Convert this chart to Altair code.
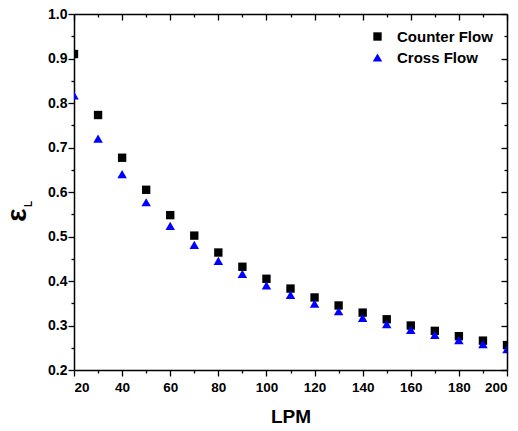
import altair as alt
import pandas as pd

# Flow rate (litres per minute) and measured effectiveness for each arrangement
lpm = [20, 30, 40, 50, 60, 70, 80, 90, 100, 110, 120, 130, 140, 150, 160, 170, 180, 190, 200]
counter_flow = [0.910, 0.773, 0.677, 0.605, 0.548, 0.502, 0.464, 0.432, 0.405, 0.383,
                0.363, 0.345, 0.329, 0.314, 0.300, 0.288, 0.276, 0.266, 0.256]
cross_flow = [0.817, 0.720, 0.640, 0.577, 0.524, 0.481, 0.445, 0.416, 0.390, 0.369,
              0.349, 0.332, 0.317, 0.303, 0.290, 0.279, 0.267, 0.258, 0.247]
series = ["Counter Flow", "Cross Flow"]

x_ticks = [20, 30, 40, 50, 60, 70, 80, 90, 100, 110, 120, 130, 140, 150, 160, 170, 180, 190, 200]
y_ticks = [0.2, 0.25, 0.3, 0.35, 0.4, 0.45, 0.5, 0.55, 0.6, 0.65, 0.7, 0.75, 0.8, 0.85, 0.9, 0.95, 1.0]

df = pd.DataFrame({
    "LPM": lpm + lpm,
    "eff": counter_flow + cross_flow,
    "Flow": [series[0]] * len(lpm) + [series[1]] * len(lpm),
})

W, H = 433, 356
FONT = "Liberation Sans"

x_scale = alt.Scale(domain=[20, 200], nice=False, zero=False)
y_scale = alt.Scale(domain=[0.2, 1.0], nice=False, zero=False)

x_major = "datum.value % 20 === 0"
y_major = "round(datum.value * 100) % 10 === 0"

legend = alt.Legend(
    title=None, orient="none", legendX=296, legendY=15,
    labelFont=FONT, labelFontWeight="bold", labelFontSize=15, labelColor="black",
    padding=0, rowPadding=5, labelOffset=12, symbolStrokeWidth=0,
)

color = alt.Color("Flow:N", scale=alt.Scale(domain=series, range=["#000000", "#0000ff"]), legend=legend)
shape = alt.Shape("Flow:N", scale=alt.Scale(domain=series, range=["square", "triangle-up"]), legend=legend)
size = alt.Size("Flow:N", scale=alt.Scale(domain=series, range=[70, 90]), legend=legend)

points = alt.Chart(df).mark_point(filled=True, opacity=1, strokeWidth=0, clip=True).encode(
    x=alt.X("LPM:Q", scale=x_scale, axis=alt.Axis(
        orient="bottom", values=x_ticks, title="LPM",
        labelExpr=f"{x_major} ? datum.label : ''",
        tickSize={"condition": {"test": x_major, "value": 6}, "value": 3},
        labelPadding=4, titlePadding=14, titleFontSize=19, labelFontSize=13.5,
    )),
    y=alt.Y("eff:Q", scale=y_scale, axis=alt.Axis(
        orient="left", values=y_ticks, title=None, format=".1f",
        labelExpr=f"{y_major} ? datum.label : ''",
        tickSize={"condition": {"test": y_major, "value": 6}, "value": 3},
        labelPadding=1, labelFontSize=14,
    )),
    color=color,
    shape=shape,
    size=size,
)

# Mirrored frame: top and right edges with inward ticks
frame = alt.Chart(df).mark_point(opacity=0).encode(
    x=alt.X("LPM:Q", scale=x_scale, axis=alt.Axis(
        orient="bottom", offset=-H, values=x_ticks, labels=False, title=None,
        tickSize={"condition": {"test": x_major, "value": 6}, "value": 3},
    )),
    y=alt.Y("eff:Q", scale=y_scale, axis=alt.Axis(
        orient="left", offset=-W, values=y_ticks, labels=False, title=None,
        tickSize={"condition": {"test": y_major, "value": 6}, "value": 3},
    )),
)

label_data = alt.Data(values=[{}])
eps = alt.Chart(label_data).mark_text(
    text="ε", angle=270, font=FONT, fontWeight="bold", fontSize=28, color="black",
    align="center", baseline="middle",
).encode(x=alt.value(-56), y=alt.value(201))
sub_l = alt.Chart(label_data).mark_text(
    text="L", angle=270, font=FONT, fontWeight="bold", fontSize=10, color="black",
    align="center", baseline="middle",
).encode(x=alt.value(-45), y=alt.value(190))

chart = alt.layer(points, frame, eps, sub_l).resolve_axis(
    x="independent", y="independent"
).properties(
    width=W, height=H,
    autosize=alt.AutoSizeParams(type="none"),
    padding={"left": 74, "top": 14, "right": 11, "bottom": 61},
    background="white",
).configure_view(stroke=None).configure_axis(
    domainColor="black", domainWidth=1.5, tickColor="black", tickWidth=1.3,
    grid=False, labelFont=FONT, labelFontWeight="bold", labelFontSize=13,
    labelColor="black", titleFont=FONT, titleFontWeight="bold", titleColor="black",
)

chart.save("out.html", embed_options={"renderer": "svg", "actions": False})
